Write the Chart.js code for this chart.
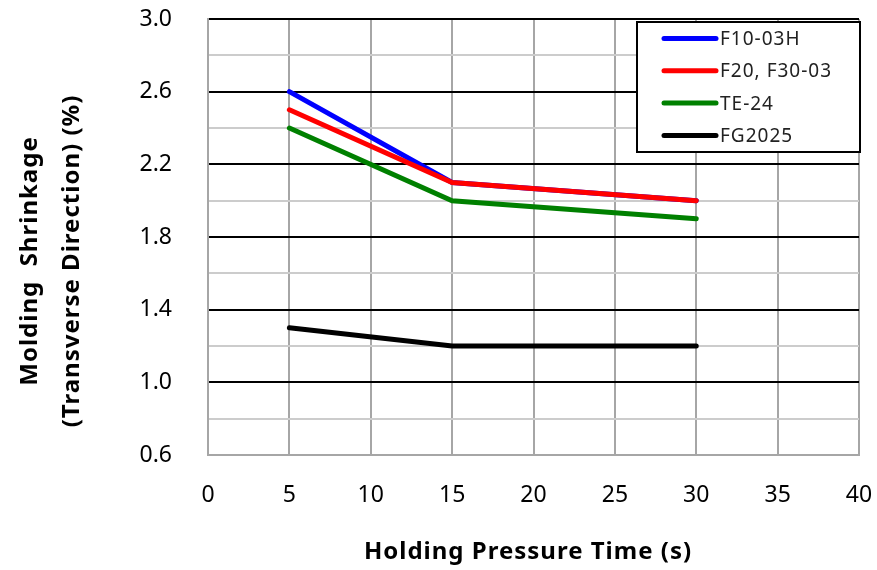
<!DOCTYPE html>
<html lang="en">
  <head>
    <meta charset="UTF-8" />
    <title>Molding Shrinkage</title>
    <style>
      body {
        margin: 0;
        background: #fff;
      }
      #chart {
        display: block;
      }
    </style>
  </head>
  <body>
    <canvas id="chart" width="877" height="570"></canvas>
  </body>
  <script src="https://cdn.jsdelivr.net/npm/chart.js"></script>
  <script>
    // data
    const xTicks = [0, 5, 10, 15, 20, 25, 30, 35, 40];
    const yMajor = [0.6, 1.0, 1.4, 1.8, 2.2, 2.6, 3.0];
    const yMinor = [0.8, 1.2, 1.6, 2.0, 2.4, 2.8];
    const times = [5, 15, 30];
    const seriesNames = ["F10-03H", "F20, F30-03", "TE-24", "FG2025"];
    const f1003h = [2.6, 2.1, 2.0];
    const f20f3003 = [2.5, 2.1, 2.0];
    const te24 = [2.4, 2.0, 1.9];
    const fg2025 = [1.3, 1.2, 1.2];
    const colors = ["#0000ff", "#ff0000", "#008000", "#000000"];

    const xTitle = "Holding Pressure Time (s)";
    const yTitle = ["Molding  Shrinkage", "(Transverse Direction) (%)"];

    const font = "'Noto Sans', 'DejaVu Sans', sans-serif";
    const grayLine = "#a6a6a6";
    const lightLine = "#cccccc";

    const values = [f1003h, f20f3003, te24, fg2025];
    const datasets = values.map((vals, i) => ({
      label: seriesNames[i],
      data: times.map((t, j) => ({ x: t, y: vals[j] })),
      borderColor: colors[i],
      backgroundColor: colors[i],
      borderWidth: 5,
      borderCapStyle: "round",
      pointRadius: 0,
      tension: 0,
      order: i === 1 ? 0 : i + 1,
    }));

    // legend box + axis titles drawn by hand
    const extras = {
      id: "extras",
      afterDraw(chart) {
        const c = chart.ctx;
        c.save();
        // legend
        const bx = 637, by = 22, bw = 223, bh = 130;
        c.fillStyle = "#fff";
        c.fillRect(bx, by, bw, bh);
        c.strokeStyle = "#000";
        c.lineWidth = 2;
        c.strokeRect(bx, by, bw, bh);
        chart.data.datasets.forEach((ds, i) => {
          const y = 38.5 + i * 32.3;
          c.strokeStyle = ds.borderColor;
          c.lineWidth = 5;
          c.lineCap = "round";
          c.beginPath();
          c.moveTo(664, y);
          c.lineTo(716, y);
          c.stroke();
          c.fillStyle = "#222";
          c.font = "19px " + font;
          c.letterSpacing = "1px";
          c.textBaseline = "middle";
          c.textAlign = "left";
          c.fillText(ds.label, 720, y + 1);
        });
        // x title
        c.fillStyle = "#000";
        c.font = "bold 24px " + font;
        c.letterSpacing = "1px";
        c.textAlign = "center";
        c.textBaseline = "middle";
        c.fillText(xTitle, 528, 552);
        // y title
        c.translate(0, 261);
        c.rotate(-Math.PI / 2);
        c.fillText(yTitle[0], 0, 30);
        c.fillText(yTitle[1], 0, 72);
        c.restore();
      },
    };

    const ctx = document.getElementById("chart");
    window.chart = new Chart(ctx, {
      type: "line",
      data: { datasets: datasets },
      options: {
        responsive: false,
        animation: false,
        layout: { padding: { top: 19, right: 18, left: 0, bottom: 0 } },
        plugins: {
          legend: { display: false },
          tooltip: { enabled: false },
        },
        scales: {
          x: {
            type: "linear",
            min: 0,
            max: 40,
            afterBuildTicks: (s) => {
              s.ticks = xTicks.map((v) => ({ value: v }));
            },
            afterFit: (s) => {
              s.height = 115;
              s.paddingLeft = 0;
              s.paddingRight = 0;
            },
            grid: { color: grayLine, lineWidth: 2, drawTicks: false },
            border: { color: grayLine, width: 2 },
            ticks: {
              padding: 27,
              color: "#000",
              font: { family: font, size: 23 },
              maxRotation: 0,
            },
          },
          y: {
            min: 0.6,
            max: 3.0,
            afterBuildTicks: (s) => {
              s.ticks = yMajor
                .concat(yMinor)
                .sort((a, b) => a - b)
                .map((v) => ({ value: v }));
            },
            afterFit: (s) => {
              s.width = 208;
              s.paddingTop = 0;
              s.paddingBottom = 0;
            },
            grid: {
              lineWidth: 2,
              drawTicks: false,
              color: (c) => {
                const v = c.tick ? c.tick.value : 0;
                if (Math.abs(v - 0.6) < 1e-6) return grayLine;
                return yMajor.some((m) => Math.abs(m - v) < 1e-6) ? "#000" : lightLine;
              },
            },
            border: { color: grayLine, width: 2 },
            ticks: {
              padding: 36,
              color: "#000",
              font: { family: font, size: 23 },
              callback: (v) => (yMajor.some((m) => Math.abs(m - v) < 1e-6) ? v.toFixed(1) : ""),
            },
          },
        },
      },
      plugins: [extras],
    });
  </script>
</html>
